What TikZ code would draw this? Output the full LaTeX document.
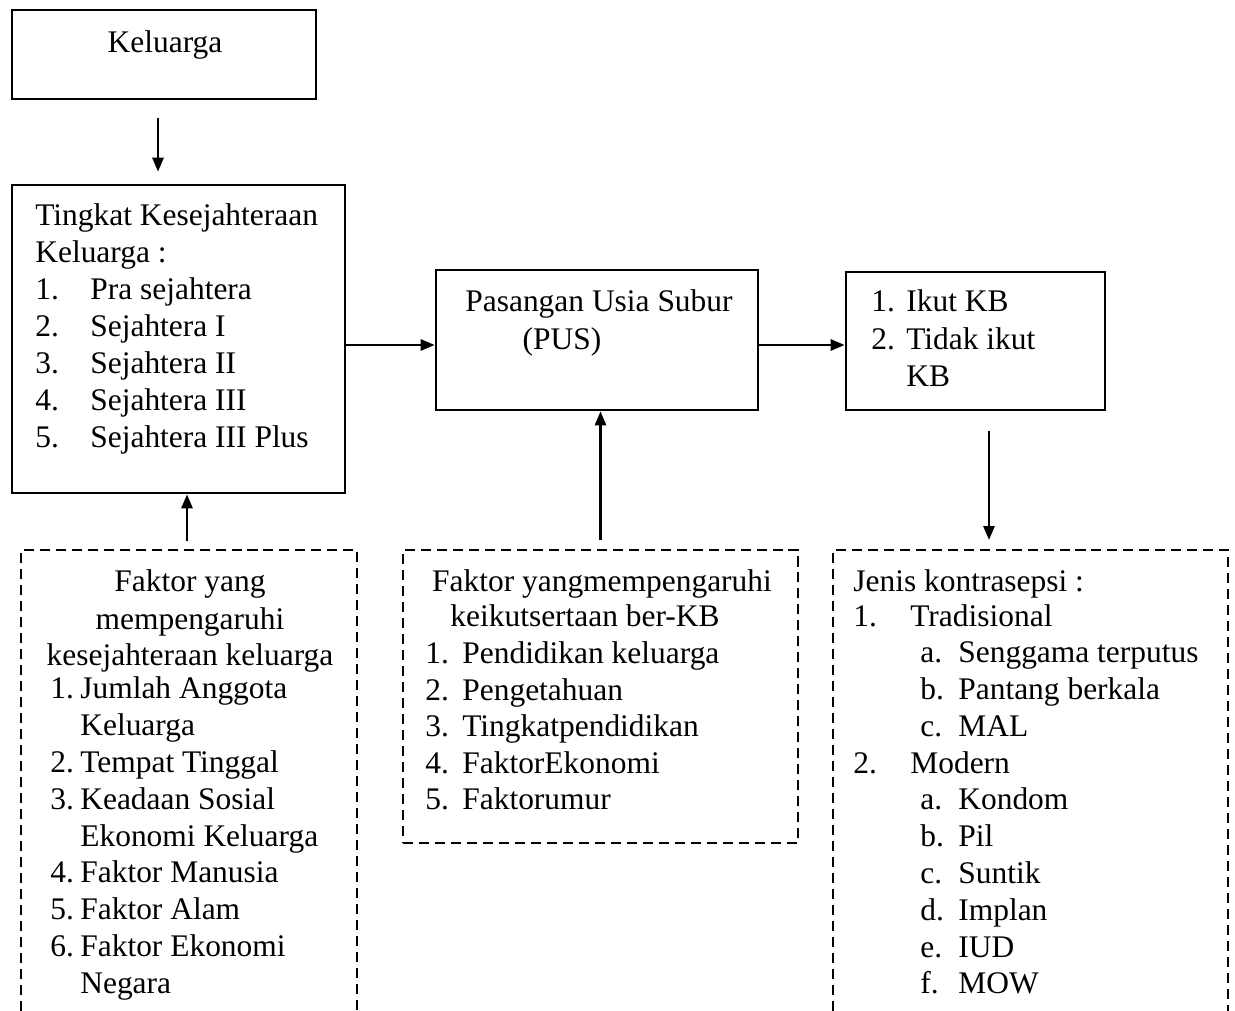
\documentclass[tikz,border=0pt]{standalone}
\usepackage{fontspec}
\setmainfont{Liberation Serif}
\usetikzlibrary{arrows.meta,fit}
\begin{document}
\begin{tikzpicture}
	[x=0.02cm,y=-0.02cm,
	box/.style={draw,line width=1.5pt,inner sep=0pt},
	dashbox/.style={draw,line width=1.4pt,dash pattern=on 5.7pt off 3.4pt},
	txt/.style={anchor=base west,inner sep=0pt,font=\fontsize{17.9}{21}\selectfont},
	ctxt/.style={txt,anchor=base},
	arr/.style={line width=1.5pt,-{Triangle[length=0.28cm,width=0.22cm]}}]
	\useasboundingbox (0,0) rectangle (1235,1011);
	% kotak utama
	\node[box,fit={(12,10) (316,99)}] (kel) {};
	\node[box,fit={(12,185) (345,493)}] (tk) {};
	\node[box,fit={(436,270) (758,410)}] (pus) {};
	\node[box,fit={(846,272) (1105,410)}] (ikut) {};
	% kotak putus-putus
	\draw[dashbox] (21,1011) -- (21,550) -- (357,550) -- (357,1011);
	\node[dashbox,inner sep=0pt,fit={(403,550) (798,843)}] (mid) {};
	\draw[dashbox] (833,1011) -- (833,550) -- (1228,550) -- (1228,1011);
	\coordinate (fk) at (187,550);
	\coordinate (jk) at (989,550);
	\coordinate (c1) at (158,0);
	\coordinate (c2) at (0,345);
	% panah
	\draw[arr,shorten <=0.36cm,shorten >=0.24cm] (kel.south -| c1) -- (tk.north -| c1);
	\draw[arr] (tk.east |- c2) -- (pus.west |- c2);
	\draw[arr] (pus.east |- c2) -- (ikut.west |- c2);
	\draw[arr,shorten <=0.4cm,shorten >=0.2cm] (ikut.south -| jk) -- (jk);
	\draw[arr,shorten <=0.18cm] (fk) -- (tk.south -| fk);
	\draw[arr,shorten <=0.18cm] (mid.north) -- (pus.south -| mid.north);
	% teks
	\node[ctxt] (kelt) at (165,52) {Keluarga};
	\node[txt] (tk1) at (35,225) {Tingkat Kesejahteraan};
	\node[txt] (tk2) at (35,262) {Keluarga :};
	\foreach \n/\t [count=\i] in {1./Pra sejahtera,2./Sejahtera I,3./Sejahtera II,4./Sejahtera III,5./Sejahtera III Plus}
	{
		\node[txt] (tkn\i) at (35,262+37*\i) {\n};
		\node[txt] (tkt\i) at (90,262+37*\i) {\t};
	}
	\node[ctxt] (pus1) at (599,311) {Pasangan Usia Subur};
	\node[ctxt] (pus2) at (562,349) {(PUS)};
	\node[txt] (ik1) at (871,311) {1.};
	\node[txt] (ik2) at (906,311) {Ikut KB};
	\node[txt] (ik3) at (871,349) {2.};
	\node[txt] (ik4) at (906,349) {Tidak ikut};
	\node[txt] (ik5) at (906,386) {KB};
	% faktor kesejahteraan
	\node[ctxt] (fh1) at (190,591) {Faktor yang};
	\node[ctxt] (fh2) at (190,629) {mempengaruhi};
	\node[ctxt] (fh3) at (190,665) {kesejahteraan keluarga};
	\foreach \t [count=\i] in {Jumlah Anggota,Keluarga,Tempat Tinggal,Keadaan Sosial,Ekonomi Keluarga,Faktor Manusia,Faktor Alam,Faktor Ekonomi,Negara}
	{
		\node[txt] (fkt\i) at (80,662+36.8*\i) {\t};
	}
	\foreach \n/\i in {1/1,2/3,3/4,4/6,5/7,6/8}
	{
		\node[txt] (fkn\n) at (50,662+36.8*\i) {\n.};
	}
	% faktor ber-KB
	\node[ctxt] (mh1) at (602,591) {Faktor yangmempengaruhi};
	\node[ctxt] (mh2) at (585,626) {keikutsertaan ber-KB};
	\foreach \t [count=\i] in {Pendidikan keluarga,Pengetahuan,Tingkatpendidikan,FaktorEkonomi,Faktorumur}
	{
		\node[txt] (mn\i) at (425,627+36.5*\i) {\i.};
		\node[txt] (mt\i) at (462,627+36.5*\i) {\t};
	}
	% jenis kontrasepsi
	\node[txt] (jh) at (853,591) {Jenis kontrasepsi :};
	\node[txt] (jn1) at (853,626) {1.};
	\node[txt] (jt1) at (910,626) {Tradisional};
	\node[txt] (jn2) at (853,773) {2.};
	\node[txt] (jt2) at (910,773) {Modern};
	\foreach \n/\t [count=\i] in {a./Senggama terputus,b./Pantang berkala,c./MAL}
	{
		\node[txt] (jan\i) at (920,589+36.8*\i+36.8) {\n};
		\node[txt] (jat\i) at (958,589+36.8*\i+36.8) {\t};
	}
	\foreach \n/\t [count=\i] in {a./Kondom,b./Pil,c./Suntik,d./Implan,e./IUD,f./MOW}
	{
		\node[txt] (jbn\i) at (920,589+36.8*\i+184) {\n};
		\node[txt] (jbt\i) at (958,589+36.8*\i+184) {\t};
	}
\end{tikzpicture}
\end{document}
